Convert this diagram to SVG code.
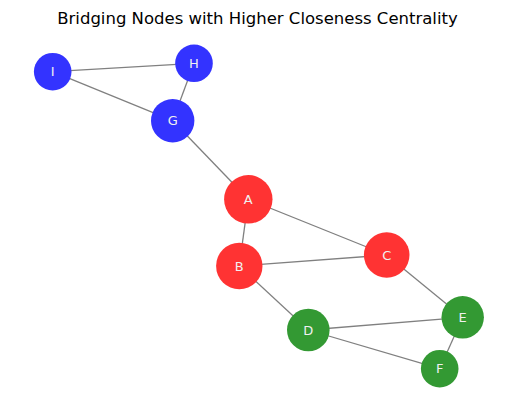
<svg xmlns="http://www.w3.org/2000/svg" width="515" height="411" viewBox="0 0 515 411">
<style>
.e{stroke:#808080;stroke-width:1.3;fill:none}
.b{fill:#3333ff}
.r{fill:#ff3333}
.g{fill:#339933}
.l{font-family:"DejaVu Sans",sans-serif;font-size:13px;fill:#f0f0f0;text-anchor:middle;dominant-baseline:central}
.t{font-family:"DejaVu Sans",sans-serif;font-size:16.5px;fill:#000;text-anchor:middle}
</style>
<rect width="515" height="411" fill="#fff"/>
<text class="t" x="257.5" y="24">Bridging Nodes with Higher Closeness Centrality</text>
<g id="edges">
<line class="e" x1="52.7" y1="71.7" x2="194" y2="63.3"/>
<line class="e" x1="52.7" y1="71.7" x2="172.7" y2="120.7"/>
<line class="e" x1="194" y1="63.3" x2="172.7" y2="120.7"/>
<line class="e" x1="172.7" y1="120.7" x2="248.3" y2="199.3"/>
<line class="e" x1="248.3" y1="199.3" x2="239.3" y2="266"/>
<line class="e" x1="248.3" y1="199.3" x2="386.7" y2="255"/>
<line class="e" x1="239.3" y1="266" x2="386.7" y2="255"/>
<line class="e" x1="239.3" y1="266" x2="308.3" y2="330"/>
<line class="e" x1="386.7" y1="255" x2="462.7" y2="317.3"/>
<line class="e" x1="308.3" y1="330" x2="462.7" y2="317.3"/>
<line class="e" x1="308.3" y1="330" x2="439.7" y2="368.7"/>
<line class="e" x1="462.7" y1="317.3" x2="439.7" y2="368.7"/>
</g>
<g id="node-I"><circle class="b" cx="52.7" cy="71.7" r="18.8"/><text class="l" x="52.7" y="71.7">I</text></g>
<g id="node-H"><circle class="b" cx="194" cy="63.3" r="18.8"/><text class="l" x="194" y="63.3">H</text></g>
<g id="node-G"><circle class="b" cx="172.7" cy="120.7" r="21.7"/><text class="l" x="172.7" y="120.7">G</text></g>
<g id="node-A"><circle class="r" cx="248.3" cy="199.3" r="24.2"/><text class="l" x="248.3" y="199.3">A</text></g>
<g id="node-B"><circle class="r" cx="239.3" cy="266" r="23.2"/><text class="l" x="239.3" y="266">B</text></g>
<g id="node-C"><circle class="r" cx="386.7" cy="255" r="22.8"/><text class="l" x="386.7" y="255">C</text></g>
<g id="node-D"><circle class="g" cx="308.3" cy="330" r="21.3"/><text class="l" x="308.3" y="330">D</text></g>
<g id="node-E"><circle class="g" cx="462.7" cy="317.3" r="21.2"/><text class="l" x="462.7" y="317.3">E</text></g>
<g id="node-F"><circle class="g" cx="439.7" cy="368.7" r="18.8"/><text class="l" x="439.7" y="368.7">F</text></g>
</svg>
